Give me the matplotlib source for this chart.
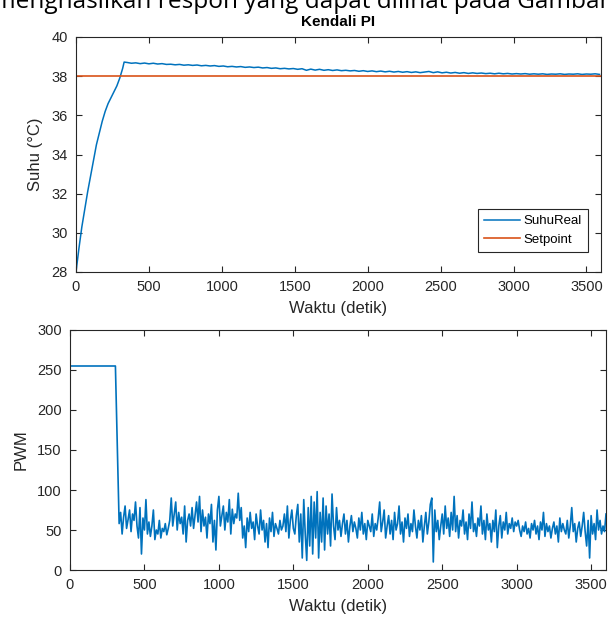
import numpy as np
import matplotlib
matplotlib.use("Agg")
import matplotlib.pyplot as plt

# Suhu: fase naik lalu fase tunak
suhu_t_naik = [0, 20, 40, 60, 80, 100, 120, 140, 160, 180, 200, 220, 240, 260, 280, 300, 320, 330]
suhu_naik = [28.0, 29.2, 30.3, 31.2, 32.1, 32.9, 33.7, 34.5, 35.1, 35.7, 36.2, 36.6, 36.9, 37.2,
             37.5, 37.9, 38.4, 38.72]
suhu_t_tunak = list(range(350, 3600, 30))
suhu_tunak = [
    38.70, 38.66, 38.68, 38.64, 38.67, 38.63, 38.66, 38.62, 38.64, 38.60,
    38.61, 38.58, 38.60, 38.56, 38.58, 38.55, 38.57, 38.53, 38.55, 38.52,
    38.54, 38.50, 38.52, 38.48, 38.50, 38.47, 38.49, 38.45, 38.47, 38.44,
    38.46, 38.42, 38.44, 38.40, 38.42, 38.38, 38.40, 38.37, 38.39, 38.35,
    38.38, 38.30, 38.36, 38.31, 38.35, 38.30, 38.33, 38.29, 38.32, 38.28,
    38.30, 38.27, 38.29, 38.25, 38.28, 38.24, 38.27, 38.23, 38.26, 38.22,
    38.25, 38.21, 38.24, 38.20, 38.23, 38.19, 38.22, 38.18, 38.21, 38.24,
    38.18, 38.22, 38.17, 38.20, 38.16, 38.19, 38.15, 38.18, 38.14, 38.17,
    38.14, 38.16, 38.13, 38.15, 38.12, 38.15, 38.12, 38.14, 38.11, 38.13,
    38.11, 38.13, 38.10, 38.12, 38.10, 38.12, 38.09, 38.11, 38.10, 38.12,
    38.09, 38.11, 38.10, 38.12, 38.09, 38.11, 38.10, 38.12, 38.09,
]
setpoint = 38.0
setpoint_t = [0, 3600]

# PWM: saturasi di awal lalu berosilasi
pwm_t_awal = [0, 305]
pwm_awal = [255, 255]
pwm_t_kendali = list(range(330, 3601, 10))
pwm_kendali = [
    58, 72, 45, 66, 80, 52, 63, 75, 48, 70,
    62, 85, 55, 40, 78, 20, 65, 50, 88, 45,
    60, 42, 55, 75, 38, 50, 45, 62, 40, 52,
    48, 58, 44, 52, 62, 90, 55, 70, 85, 50,
    72, 58, 66, 45, 80, 35, 62, 70, 55, 78,
    52, 68, 85, 60, 92, 48, 75, 55, 66, 40,
    70, 58, 82, 35, 62, 25, 75, 92, 55, 68,
    80, 50, 72, 60, 88, 45, 76, 58, 70, 65,
    96, 62, 78, 40, 55, 28, 65, 48, 72, 52,
    60, 38, 70, 55, 45, 75, 50, 62, 35, 58,
    28, 65, 48, 72, 42, 58, 52, 45, 62, 50,
    55, 70, 48, 80, 40, 62, 75, 52, 45, 68,
    82, 35, 70, 15, 88, 45, 12, 78, 30, 92,
    20, 85, 40, 98, 15, 72, 35, 90, 25, 80,
    45, 70, 30, 95, 55, 38, 78, 50, 62, 42,
    58, 70, 45, 62, 35, 55, 68, 48, 60, 52,
    40, 65, 50, 72, 45, 58, 38, 62, 55, 48,
    70, 42, 58, 50, 65, 85, 48, 60, 75, 40,
    55, 68, 45, 62, 38, 72, 50, 58, 80, 45,
    60, 35, 65, 52, 70, 42, 58, 48, 75, 55,
    40, 62, 50, 68, 35, 55, 72, 45, 60, 82,
    90, 10, 75, 48, 62, 38, 55, 70, 45, 80,
    52, 65, 42, 72, 50, 92, 48, 68, 40, 62,
    55, 75, 45, 60, 38, 70, 52, 85, 48, 58,
    42, 65, 55, 80, 45, 62, 38, 70, 50, 58,
    35, 62, 48, 75, 28, 55, 68, 40, 60, 50,
    72, 45, 58, 52, 65, 48, 60, 55, 62, 50,
    42, 55, 48, 60, 45, 52, 40, 58, 50, 62,
    45, 55, 38, 60, 50, 72, 42, 58, 48, 55,
    40, 52, 60, 45, 55, 35, 65, 48, 58, 50,
    45, 62, 40, 55, 78, 48, 58, 35, 52, 60,
    42, 55, 72, 48, 30, 62, 15, 68, 45, 58,
    38, 75, 50, 62, 45, 55, 48, 70,
]

plt.rcParams['font.family'] = ['Liberation Sans', 'DejaVu Sans']
biru = '#0072BD'
oranye = '#D95319'
abu = '#262626'

fig = plt.figure(figsize=(6.08, 6.23), dpi=100)

# potongan teks paragraf di atas gambar (terpotong seperti aslinya)
fig.text(-0.012, 1 - 8 / 623, "menghasilkan respon yang dapat dilihat pada Gambar",
         family=['Open Sans', 'DejaVu Sans'], fontsize=17.6, color='black', va='baseline')


def gaya_matlab(ax):
    ax.tick_params(direction='in', top=True, right=True, length=4, width=0.8,
                   labelsize=10.5, colors=abu, pad=6)
    for s in ax.spines.values():
        s.set_color(abu)
        s.set_linewidth(0.8)


ax1 = fig.add_axes([76 / 608, 1 - 272 / 623, 525 / 608, 235 / 623])
ax1.plot(suhu_t_naik + suhu_t_tunak, suhu_naik + suhu_tunak, color=biru, lw=1.1, label='SuhuReal')
ax1.plot(setpoint_t, [setpoint, setpoint], color=oranye, lw=1.2, label='Setpoint')
ax1.set_xlim(0, 3600)
ax1.set_ylim(28, 40)
ax1.set_xticks(np.arange(0, 3501, 500))
ax1.set_yticks(np.arange(28, 41, 2))
ax1.set_xlabel('Waktu (detik)', fontsize=12, color=abu, labelpad=5)
ax1.set_ylabel('Suhu (°C)', fontsize=12, color=abu, labelpad=6)
ax1.set_title('Kendali PI', fontsize=11, fontweight='bold', pad=8)
gaya_matlab(ax1)
leg = ax1.legend(loc='lower right', bbox_to_anchor=(0.975, 0.085), borderaxespad=0,
                 fontsize=9.5, fancybox=False, edgecolor=abu, framealpha=1, borderpad=0.45,
                 handlelength=2.7, handletextpad=0.3, labelspacing=0.5)
leg.get_frame().set_linewidth(0.8)

ax2 = fig.add_axes([70 / 608, 1 - 570 / 623, 536 / 608, 240 / 623])
ax2.plot(pwm_t_awal + pwm_t_kendali, pwm_awal + pwm_kendali, color=biru, lw=1.2)
ax2.set_xlim(0, 3600)
ax2.set_ylim(0, 300)
ax2.set_xticks(np.arange(0, 3501, 500))
ax2.set_yticks(np.arange(0, 301, 50))
ax2.set_xlabel('Waktu (detik)', fontsize=12, color=abu, labelpad=5)
ax2.set_ylabel('PWM', fontsize=12, color=abu, labelpad=6)
gaya_matlab(ax2)

fig.savefig('out.png', dpi=100)
